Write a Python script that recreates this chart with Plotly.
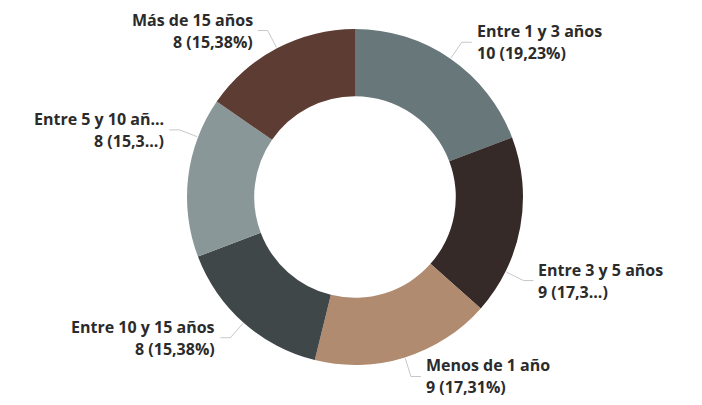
import math
import plotly.graph_objects as go

# データ
categorias = ["Entre 1 y 3 años", "Entre 3 y 5 años", "Menos de 1 año",
              "Entre 10 y 15 años", "Entre 5 y 10 años", "Más de 15 años"]
valores = [10, 9, 9, 8, 8, 8]
etiquetas = ["Entre 1 y 3 años", "Entre 3 y 5 años", "Menos de 1 año",
             "Entre 10 y 15 años", "Entre 5 y 10 añ...", "Más de 15 años"]
etiquetas_valor = ["10 (19,23%)", "9 (17,3...)", "9 (17,31%)",
                   "8 (15,38%)", "8 (15,3...)", "8 (15,38%)"]

COLORES = ["#68777a", "#362a29", "#b08b6f", "#3f4748", "#899799", "#5c3c33"]
TEXT_COLOR = "#2b2b2b"

W, H = 702, 405
CX, CY, R = 355, 197, 168
HOLE = 0.6
# Power BIのラベル配置に合わせた角度補正（度）
NUDGE = [0, 16, 0, 0, 14, 0]


def px(x, y):
    """ピクセル座標 -> paper座標"""
    return x / W, 1 - y / H


fig = go.Figure()
fig.add_trace(go.Pie(
    labels=categorias,
    values=valores,
    hole=HOLE,
    sort=False,
    direction="clockwise",
    rotation=0,
    marker=dict(colors=COLORES, line=dict(width=0)),
    textinfo="none",
    hoverinfo="label+value+percent",
    domain=dict(x=[(CX - R) / W, (CX + R) / W],
                y=[(H - CY - R) / H, (H - CY + R) / H]),
    showlegend=False,
))

# --- ラベルと引き出し線 ---
total = sum(valores)
acum = 0
shapes = []
annotations = []
for i, v in enumerate(valores):
    mid = (acum + v / 2) / total * 360 + NUDGE[i]
    acum += v
    a = math.radians(mid)
    sx, sy = math.sin(a), -math.cos(a)
    x0, y0 = CX + (R + 1) * sx, CY + (R + 1) * sy
    x1, y1 = CX + (R + 20) * sx, CY + (R + 20) * sy
    side = 1 if sx >= 0 else -1
    x2 = x1 + side * 10
    x0p, y0p = px(x0, y0)
    x1p, y1p = px(x1, y1)
    x2p, y2p = px(x2, y1)
    shapes.append(dict(
        type="path", xref="paper", yref="paper",
        path=f"M {x0p} {y0p} L {x1p} {y1p} L {x2p} {y2p}",
        line=dict(color="#c8c8c8", width=1),
    ))
    tx = x2 + side * 3
    for txt, dy in [(etiquetas[i], -11), (etiquetas_valor[i], 11)]:
        xp, yp = px(tx, y1 + dy)
        annotations.append(dict(
            x=xp, y=yp, xref="paper", yref="paper",
            text=txt, showarrow=False,
            xanchor="left" if side > 0 else "right",
            yanchor="middle",
            font=dict(family="Open Sans", size=16, color=TEXT_COLOR, weight=700),
        ))

fig.update_layout(
    width=W, height=H,
    margin=dict(l=0, r=0, t=0, b=0),
    paper_bgcolor="#FFFFFF",
    plot_bgcolor="#FFFFFF",
    shapes=shapes,
    annotations=annotations,
)

# ページ余白を消して図を左上に揃える
fig.write_html("out.html", config={"displayModeBar": False},
               post_script="document.body.style.margin='0';")
